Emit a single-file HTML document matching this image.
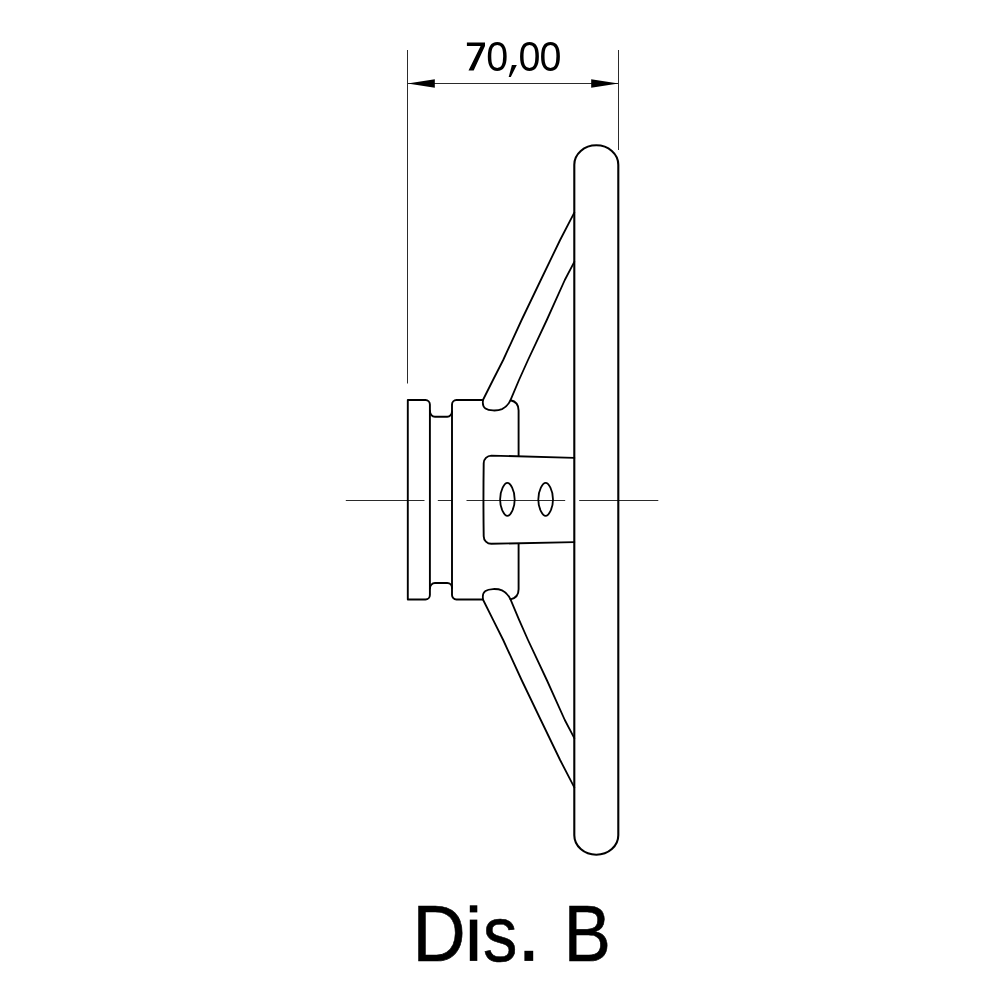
<!DOCTYPE html>
<html><head><meta charset="utf-8">
<style>
html,body{margin:0;padding:0;background:#fff;}
body{width:1000px;height:1000px;overflow:hidden;font-family:"Liberation Sans",sans-serif;}
svg{display:block;}
</style></head><body>
<svg width="1000" height="1000" viewBox="0 0 1000 1000">
<defs><filter id="idf" x="0" y="-200" width="1000" height="1400" filterUnits="userSpaceOnUse" color-interpolation-filters="sRGB"><feOffset dx="0" dy="0"/></filter></defs>
<rect width="1000" height="1000" fill="#fff"/>
<!-- thin lines -->
<g stroke="#2a2a2a" stroke-width="1" fill="none">
<line x1="407.5" y1="50" x2="407.5" y2="383.5"/>
<line x1="618.5" y1="50" x2="618.5" y2="150"/>
<line x1="407.5" y1="83.5" x2="618.5" y2="83.5"/>
<line x1="345.8" y1="500.5" x2="424.5" y2="500.5"/>
<line x1="437.8" y1="500.5" x2="452.5" y2="500.5"/>
<line x1="466.5" y1="500.5" x2="565.2" y2="500.5"/>
<line x1="579.2" y1="500.5" x2="658.3" y2="500.5"/>
</g>
<polygon points="407.5,83.5 434.8,79.3 434.8,87.7" fill="#000"/>
<polygon points="618.5,83.5 591.2,79.3 591.2,87.7" fill="#000"/>
<!-- thick -->
<g stroke="#000" stroke-width="2.1" fill="none" stroke-linecap="round" stroke-linejoin="round">
<path d="M574.3,164.8 V835.2 A22,19.5 0 0 0 618.3,835.2 V164.8 A22,19.5 0 0 0 574.3,164.8 Z"/>
<!-- upper spoke -->
<path stroke-width="1.8" d="M574.3,212.6 L560.1,240.0 L540.8,280.0 L521.6,320.0 L503.2,360.0 L493.0,380.0 L483.2,399.5 C482.4,403 482.8,406.5 485.5,408.6 C488.5,410.7 497,411.3 502,409.1 C506.5,407 508.8,404 510.5,400.2 L519.0,380.0 L528.0,360.0 L546.8,320.0 L564.8,280.0 L574.3,261.9"/>
<!-- lower spoke -->
<path stroke-width="1.8" d="M574.3,787.4 L560.1,760.0 L540.8,720.0 L521.6,680.0 L503.2,640.0 L493.0,619.7 L483.2,600.0 C482.4,596.5 482.8,593.0 485.5,590.9 C488.5,588.8 497,588.2 502,590.4 C506.5,592.5 508.8,595.5 510.5,599.4 L519.0,619.7 L528.0,640.0 L546.8,680.0 L564.8,720.0 L574.3,738.1"/>
</g><g stroke="#000" stroke-width="1.9" fill="none" stroke-linecap="round" stroke-linejoin="round">
<!-- flange -->
<path d="M407.8,400 H425.5 A4.4,4.5 0 0 1 429.9,404.5 V595 A4.4,4.5 0 0 1 425.5,599.5 H407.8 Z"/>
<!-- groove -->
<path d="M429.9,410.8 A5,6 0 0 0 434.9,416.8 H447.3 A4.7,5.4 0 0 0 452,411.4"/>
<path d="M429.9,588.4 A5,5.4 0 0 1 434.9,583 H447.3 A4.7,5 0 0 1 452,588"/>
<!-- block -->
<path d="M482.8,400 H456.4 A4.4,4.5 0 0 0 452,404.5 V595 A4.4,4.5 0 0 0 456.4,599.5 H482.8"/>
<path d="M510.5,400.2 C515.5,401.2 518.6,405 518.6,410.5 V455.8"/>
<path d="M510.5,599.4 C515.5,598.4 518.6,594.6 518.6,589.3 V544"/>
<!-- bracket -->
<path d="M574.3,457.9 L491.3,455.6 A7.6,7.6 0 0 0 483.7,463.2 Q483.2,499.7 483.7,536.2 A7.6,7.6 0 0 0 491.3,543.8 L574.3,542.1"/>
<path stroke-width="1.8" d="M507.40,482.90 C510.32,482.90 514.70,490.16 514.70,499.40 C514.70,508.64 510.32,515.90 507.40,515.90 C504.48,515.90 500.10,508.64 500.10,499.40 C500.10,490.16 504.48,482.90 507.40,482.90 Z"/>
<path stroke-width="1.8" d="M545.65,482.90 C548.59,482.90 553.00,490.16 553.00,499.40 C553.00,508.64 548.59,515.90 545.65,515.90 C542.71,515.90 538.30,508.64 538.30,499.40 C538.30,490.16 542.71,482.90 545.65,482.90 Z"/>
</g>
<g font-family="'Liberation Sans',sans-serif" fill="#000">
<polygon points="466.9,42.6 485,42.6 485,45.9 473.7,70.6 468.5,70.6 480.6,45.9 466.9,45.9"/>
<g transform="translate(0,70.7) scale(1,1.055)" filter="url(#idf)"><text x="486.3 518.5 539.4" y="0" font-size="39.5">000</text></g>
<polygon points="511.9,65.1 516.8,65.1 510.8,77 508.7,77"/>
<g stroke="#000" stroke-width="0.6" font-size="76">
<text transform="translate(412.6,960.6) scale(0.969,1.04)" x="0" y="0">D</text>
<text transform="translate(483,960.6) scale(0.903,1.02)" x="0" y="0">s</text>
<text transform="translate(563.8,960.6) scale(0.93,1.04)" x="0" y="0">B</text>
</g>
<rect x="469.8" y="919.6" width="7.5" height="41.3"/>
<rect x="469.8" y="905.3" width="7.5" height="7.1"/>
<rect x="524.4" y="950.8" width="8.8" height="10.1"/>
</g>
</svg>
</body></html>
